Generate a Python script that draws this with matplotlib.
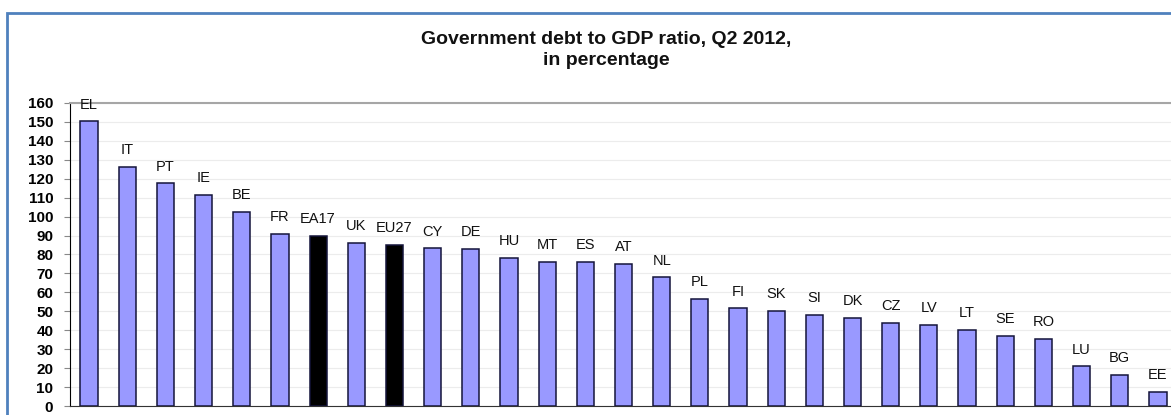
import matplotlib
matplotlib.use("Agg")
import matplotlib.pyplot as plt
from matplotlib.patches import Rectangle

plt.rcParams['font.family'] = ['Liberation Sans', 'DejaVu Sans']

# Government debt to GDP ratio, Q2 2012 (%)
countries = ['EL', 'IT', 'PT', 'IE', 'BE', 'FR', 'EA17', 'UK', 'EU27', 'CY',
             'DE', 'HU', 'MT', 'ES', 'AT', 'NL', 'PL', 'FI', 'SK', 'SI',
             'DK', 'CZ', 'LV', 'LT', 'SE', 'RO', 'LU', 'BG', 'EE']
debt_ratio = [150.3, 126.1, 117.5, 111.5, 102.5, 91.0, 90.0, 86.0, 84.9, 83.3,
              82.8, 78.2, 76.2, 76.0, 75.1, 68.0, 56.5, 51.5, 50.1, 48.1,
              46.7, 43.9, 42.8, 40.3, 37.1, 35.5, 20.9, 16.5, 7.3]
aggregates = ['EA17', 'EU27']

yticks = list(range(0, 161, 10))


def main():
    fig = plt.figure(figsize=(11.71, 4.15), dpi=100)
    W, H = 1171, 415

    # blue frame around the chart area
    fig.patches.append(Rectangle((7 / W, -0.1), 1.2, (H - 13) / H + 0.1,
                                 transform=fig.transFigure, fill=False,
                                 edgecolor='#4f81bd', linewidth=2.0))

    ax = fig.add_axes([70 / W, 9 / H, 1107 / W, 303 / H])
    colors = ['black' if c in aggregates else '#9999ff' for c in countries]
    x = range(len(countries))
    ax.bar(x, debt_ratio, width=0.45, color=colors, edgecolor='#14143a',
           linewidth=1.1, zorder=3)

    for i, (c, v) in enumerate(zip(countries, debt_ratio)):
        ax.annotate(c, (i, v), xytext=(0, 7), textcoords='offset points',
                    ha='center', va='bottom', fontsize=10.5, color='#111111',
                    zorder=4, annotation_clip=False)

    ax.set_xlim(-0.5, len(countries) - 0.5)
    ax.set_ylim(0, 160)
    ax.set_yticks(yticks)
    ax.set_xticks([])
    ax.yaxis.grid(True, color='#ececec', linewidth=0.8, zorder=0)
    ax.tick_params(axis='y', length=4, width=0.8, color='#888888', pad=8,
                   labelsize=11)
    for lbl in ax.get_yticklabels():
        lbl.set_fontweight('bold')

    ax.spines['left'].set_color('black')
    ax.spines['bottom'].set_color('#333333')
    ax.spines['top'].set_color('#a6a6a6')
    ax.spines['top'].set_linewidth(1.5)
    ax.spines['right'].set_visible(False)

    fig.text(606 / W, 1 - 50 / H, 'Government debt to GDP ratio, Q2 2012,\nin percentage',
             ha='center', va='center', fontsize=14, fontweight='bold',
             linespacing=1.25, color='#111111')

    fig.savefig('out.png', dpi=100)


if __name__ == '__main__':
    main()
